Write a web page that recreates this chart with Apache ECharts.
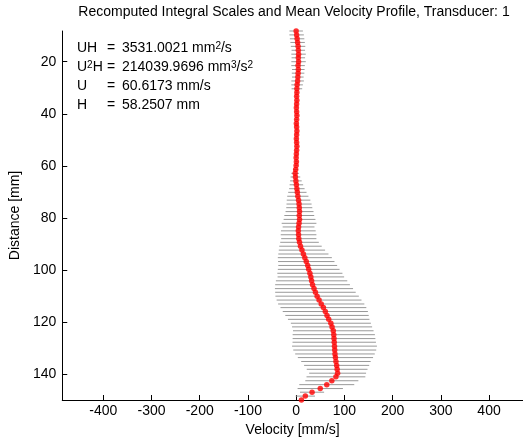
<!DOCTYPE html>
<html>
<head>
<meta charset="utf-8">
<script src="https://cdn.jsdelivr.net/npm/echarts@6/dist/echarts.min.js"></script>
<style>html,body{margin:0;padding:0;background:#fff}#c{width:523px;height:442px}</style>
</head>
<body>
<div id="c"></div>
<script>
const distances = [8.2, 9.7, 11.2, 12.6, 14.1, 15.6, 17.1, 18.5, 20.0, 21.5, 23.0, 24.4, 25.9, 27.4, 28.9, 30.4, 31.8, 33.3, 34.8, 36.3, 37.7, 39.2, 40.7, 42.2, 43.7, 45.1, 46.6, 48.1, 49.6, 51.0, 52.5, 54.0, 55.5, 56.9, 58.4, 59.9, 61.4, 62.9, 64.3, 65.8, 67.3, 68.8, 70.2, 71.7, 73.2, 74.7, 76.1, 77.6, 79.1, 80.6, 82.1, 83.5, 85.0, 86.5, 88.0, 89.4, 90.9, 92.4, 93.9, 95.3, 96.8, 98.3, 99.8, 101.3, 102.7, 104.2, 105.7, 107.2, 108.6, 110.1, 111.6, 113.1, 114.5, 116.0, 117.5, 119.0, 120.5, 121.9, 123.4, 124.9, 126.4, 127.8, 129.3, 130.8, 132.3, 133.7, 135.2, 136.7, 138.2, 139.7, 141.1, 142.6, 144.1, 145.6, 147.0, 148.5, 150.0];

const meanVelocity = [0, 1, 2, 3, 4, 4.5, 5, 4.5, 5, 4, 4.5, 4, 3.5, 3, 2, 1.5, 1.5, 1, 1.5, 1, 0.5, 1, 1.5, 1, 0.5, 1, 1.5, 1, 0.5, 1, 1.5, 1, 0.5, 0, 0.5, 0, -1, -2, -1.5, -0.5, 0.5, 1.5, 2.5, 3.5, 5, 6, 6.5, 7, 6.5, 7, 6, 5, 4.5, 5, 5.5, 7, 9, 12, 15, 18, 21, 24, 26, 28.5, 30.5, 32, 34, 37, 40, 43.5, 47.5, 52, 56.5, 60.5, 64, 67.5, 72, 74.5, 77, 78, 78.5, 79, 79.5, 80, 80.5, 81.5, 82.5, 84, 85, 86, 82.5, 74, 63.5, 50, 33, 19, 11];

const velocitySpread = [14, 15, 15, 15, 15, 14, 15, 14, 15, 14, 13, 13, 12, 13, 12, 11, 3, 3, 3, 3, 3, 3, 3, 3, 3, 3, 3, 3, 3, 3, 3, 3, 3, 3, 3, 3, 5, 8, 10, 12, 14, 16, 19, 22, 24.5, 26, 27, 29, 31, 33, 36, 33, 36, 37, 36.5, 40, 44, 48, 52, 56, 58.5, 61, 64, 67.5, 69, 74, 77.5, 81, 83.5, 86.5, 88, 89.4, 89, 88.3, 86.5, 84.5, 83, 83, 83.5, 85.3, 85.8, 86.5, 88, 86, 82.5, 78, 72, 67.5, 63, 59, 61, 55, 57, 47, 25, 20, 0];

const xTicks = [-400, -300, -200, -100, 0, 100, 200, 300, 400];
const yTicks = [20, 40, 60, 80, 100, 120, 140];

const titleText = 'Recomputed Integral Scales and Mean Velocity Profile, Transducer: 1';
const infoNames = ['UH', 'U{sup|2}H', 'U', 'H'];
const infoValues = ['3531.0021 mm{sup|2}/s', '214039.9696 mm{sup|3}/s{sup|2}', '60.6173 mm/s', '58.2507 mm'];

const FONT = '"Liberation Sans", Arial, sans-serif';
const FS = 14;

const barData = distances.map((d, i) => [meanVelocity[i], velocitySpread[i], d]);
const dotData = distances.map((d, i) => [meanVelocity[i], d]);

const chart = echarts.init(document.getElementById('c'), null, {renderer: 'canvas'});

const supRich = {sup: {fontSize: 10, fontFamily: FONT, verticalAlign: 'top', lineHeight: 10, padding: [0, 0, 7, 0]}};

function txt(x, y, text, align) {
  return {type: 'text', x: x, y: y,
    style: {text: text, fontSize: FS, fontFamily: FONT, fill: '#000', textAlign: align || 'left',
      textVerticalAlign: 'middle', rich: supRich}};
}

const graphics = [txt(294, 12, titleText, 'center')];
const rowY = [48, 67, 86, 105];
infoNames.forEach((n, i) => {
  graphics.push(txt(77, rowY[i], n));
  graphics.push(txt(107, rowY[i], '='));
  graphics.push(txt(122, rowY[i], infoValues[i]));
});

chart.setOption({
  animation: false,
  backgroundColor: '#fff',
  textStyle: {fontFamily: FONT},
  grid: {left: 62, top: 31, right: 0, height: 371, containLabel: false},
  xAxis: {
    type: 'value', min: -485, max: 470.4,
    name: 'Velocity [mm/s]', nameLocation: 'middle', nameGap: 23,
    nameTextStyle: {fontSize: FS, color: '#000', fontFamily: FONT},
    axisLine: {show: true, onZero: false, lineStyle: {color: '#000', width: 1}},
    axisTick: {show: true, inside: true, length: 5, customValues: xTicks, lineStyle: {color: '#000'}},
    axisLabel: {show: true, customValues: xTicks, fontSize: FS, color: '#000', margin: 4, fontFamily: FONT},
    splitLine: {show: false}
  },
  yAxis: {
    type: 'value', min: 8.2, max: 150, inverse: true,
    name: 'Distance [mm]', nameLocation: 'middle', nameGap: 34, nameRotate: 90,
    nameTextStyle: {fontSize: FS, color: '#000', fontFamily: FONT},
    axisLine: {show: true, onZero: false, lineStyle: {color: '#000', width: 1}},
    axisTick: {show: true, inside: true, length: 5, customValues: yTicks, lineStyle: {color: '#000'}},
    axisLabel: {show: true, customValues: yTicks, fontSize: FS, color: '#000', margin: 6, fontFamily: FONT},
    splitLine: {show: false}
  },
  series: [{
    type: 'custom',
    data: barData,
    encode: {x: 0, y: 2},
    z: 2,
    renderItem: function (params, api) {
      const v = api.value(0), s = api.value(1), d = api.value(2);
      const p1 = api.coord([v - s, d]);
      const p2 = api.coord([v + s, d]);
      return {type: 'line', shape: {x1: p1[0], y1: p1[1], x2: p2[0], y2: p2[1]},
        style: {stroke: '#999999', lineWidth: 1}};
    }
  }, {
    type: 'scatter',
    data: dotData,
    symbol: 'circle',
    symbolSize: 5.5,
    itemStyle: {color: '#ff0000'},
    z: 5,
    clip: false
  }],
  graphic: graphics
});
</script>
</body>
</html>
